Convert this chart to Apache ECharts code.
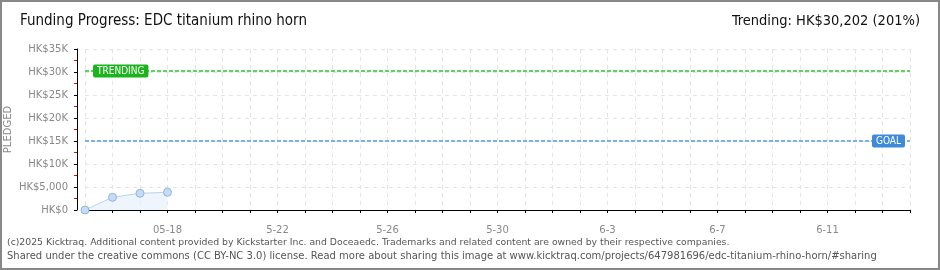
<!DOCTYPE html>
<html><head><meta charset="utf-8">
<script src="https://cdn.jsdelivr.net/npm/echarts@6/dist/echarts.min.js"></script>
<style>html,body{margin:0;padding:0;background:#fff}#c{width:940px;height:270px}</style>
</head><body><div id="c"></div>
<script>
const categories = ['05-15','05-16','05-17','05-18','5-19','5-20','5-21','5-22','5-23','5-24','5-25','5-26','5-27','5-28','5-29','5-30','5-31','6-1','6-2','6-3','6-4','6-5','6-6','6-7','6-8','6-9','6-10','6-11','6-12','6-13','6-14'];
const pledged = [0, 2760, 3630, 3850];
const goal = 15000;
const trending = 30202;
const titleText = 'Funding Progress: EDC titanium rhino horn';
const trendingText = 'Trending: HK$30,202 (201%)';
const footer1 = '(c)2025 Kicktraq. Additional content provided by Kickstarter Inc. and Doceaedc. Trademarks and related content are owned by their respective companies.';
const footer2 = 'Shared under the creative commons (CC BY-NC 3.0) license. Read more about sharing this image at www.kicktraq.com/projects/647981696/edc-titanium-rhino-horn/#sharing';

const font = 'DejaVu Sans Condensed';
const axFont = 'DejaVu Sans';
const chart = echarts.init(document.getElementById('c'), null, {renderer:'canvas'});
chart.setOption({
  animation:false,
  backgroundColor:'#fff',
  grid:{left:85,right:30,top:49,bottom:60,containLabel:false,outerBoundsMode:'none'},
  graphic:[
    {type:'rect',shape:{x:1,y:1,width:938,height:268},style:{fill:'none',stroke:'#888',lineWidth:2},silent:true},
    {type:'text',left:20,top:14,style:{text:titleText,font:'15px "'+font+'"',fill:'#111'}},
    {type:'text',right:20,top:14,style:{text:trendingText,font:'14.5px "'+font+'"',fill:'#111'}},
    {type:'text',left:7,top:238,style:{text:footer1,font:'9.3px "DejaVu Sans"',fill:'#555'}},
    {type:'text',left:7,top:251,style:{text:footer2,font:'10px "DejaVu Sans"',fill:'#555'}}
  ],
  xAxis:{
    type:'category',data:categories,boundaryGap:false,offset:11,
    axisLine:{lineStyle:{color:'#000',width:1}},
    axisTick:{show:true,interval:0,length:3,lineStyle:{color:'#000'}},
    axisLabel:{interval:function(i){return i%4===3;},color:'#888',fontFamily:axFont,fontSize:10,margin:4},
    splitLine:{show:true,interval:0,lineStyle:{color:'#e4e4e4',type:[4,4]}}
  },
  yAxis:{
    type:'value',min:0,max:35000,interval:5000,offset:8,
    name:'PLEDGED',nameLocation:'middle',nameGap:64,nameRotate:90,nameMoveOverlap:false,
    nameTextStyle:{color:'#888',fontFamily:axFont,fontSize:10},
    axisLine:{show:true,lineStyle:{color:'#000'}},
    axisTick:{show:true,length:3,lineStyle:{color:'#000'}},
    minorTick:{show:true,splitNumber:2,length:3,lineStyle:{color:'#e00'}},
    axisLabel:{color:'#888',fontFamily:axFont,fontSize:10,margin:9,
      formatter:function(v){if(v===0)return 'HK$0';if(v===5000)return 'HK$5,000';return 'HK$'+(v/1000)+'K';}},
    splitLine:{show:true,lineStyle:{color:'#e4e4e4',type:[4,4]}}
  },
  series:[{
    type:'line',data:pledged,symbol:'circle',symbolSize:8,
    lineStyle:{color:'#b9d3ef',width:1},
    itemStyle:{color:'#c4dcf6',borderColor:'#94b4da',borderWidth:1},
    areaStyle:{color:'#e8f1fc'},
    markLine:{
      silent:true,symbol:'none',
      data:[
        {yAxis:trending,lineStyle:{color:'#5fd35f',type:[4,2],width:2},
         label:{show:true,formatter:'TRENDING',position:'insideStartTop',verticalAlign:'middle',distance:[8,0],
           color:'#fff',backgroundColor:'#1db31d',padding:[1,4,0,4],lineHeight:12,borderRadius:2,fontFamily:font,fontSize:10}},
        {yAxis:goal,lineStyle:{color:'#7fb0e4',type:[4,2],width:2},
         label:{show:true,formatter:'GOAL',position:'insideEndTop',verticalAlign:'middle',distance:[5,0],
           color:'#fff',backgroundColor:'#3d89dc',padding:[1,4,0,4],lineHeight:12,borderRadius:2,fontFamily:font,fontSize:10}}
      ]
    }
  }]
});
</script></body></html>
